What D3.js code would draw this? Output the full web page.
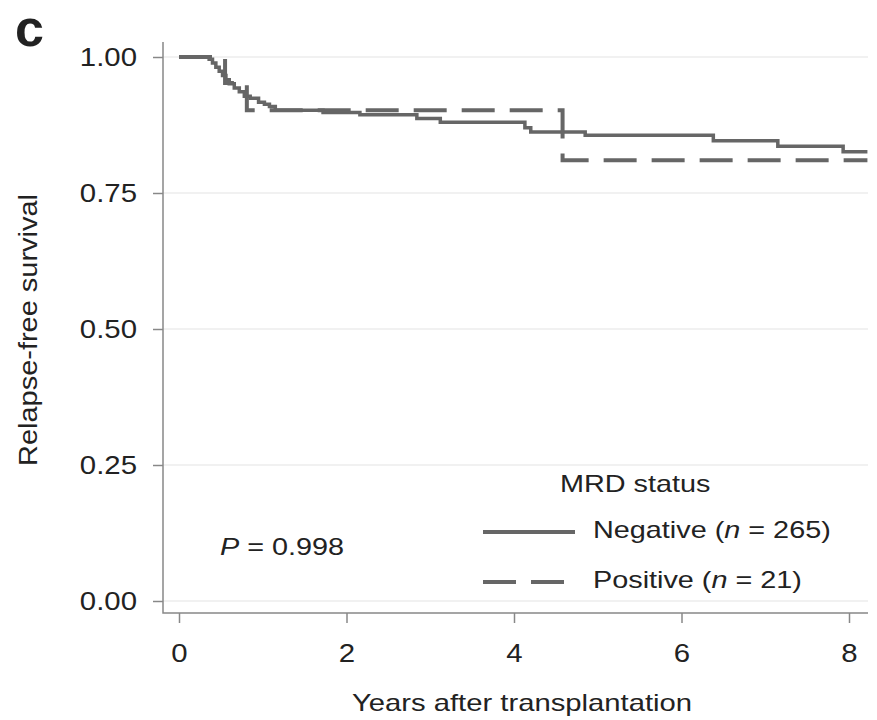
<!DOCTYPE html>
<html>
<head>
<meta charset="utf-8">
<script src="https://cdn.jsdelivr.net/npm/d3@7"></script>
<style>
  body { margin: 0; background: #fff; }
  text { font-family: "Liberation Sans", Arial, sans-serif; fill: #222; }
</style>
</head>
<body>
<div id="chart"></div>
<script>
// Kaplan-Meier steps (years, survival)
var negTime = [0, 0.36, 0.40, 0.44, 0.48, 0.52, 0.56, 0.60, 0.66, 0.72, 0.78, 0.85, 0.95, 1.02, 1.08, 1.15, 1.72, 2.16, 2.84, 3.12, 4.13, 4.20, 4.85, 6.38, 7.15, 7.93, 8.22];
var negSurv = [1, 0.996, 0.989, 0.981, 0.974, 0.966, 0.958, 0.951, 0.943, 0.936, 0.928, 0.924, 0.917, 0.913, 0.909, 0.902, 0.898, 0.894, 0.887, 0.880, 0.870, 0.862, 0.856, 0.846, 0.836, 0.826, 0.826];
var posTime = [0, 0.55, 0.81, 4.58, 8.22];
var posSurv = [1, 0.952, 0.902, 0.810, 0.810];

var xTicks = [0, 2, 4, 6, 8];
var yTicks = [0, 0.25, 0.5, 0.75, 1];

var width = 877, height = 720;
var lineColor = '#666';

var svg = d3.select('#chart').append('svg')
	.attr('width', width)
	.attr('height', height);

var x = d3.scaleLinear().domain([0, 8]).range([179, 849]);
var y = d3.scaleLinear().domain([0, 1]).range([601, 57]);

var axisX = 163, axisY = 613, rightEdge = 868, topEdge = 42;

// widen glyphs a bit, the figure's text is stretched horizontally
function stretch(sel, k) {
	sel.each(function () {
		d3.select(this).attr('textLength', this.getComputedTextLength() * k)
			.attr('lengthAdjust', 'spacingAndGlyphs');
	});
}

// gridlines
svg.append('g').selectAll('line')
	.data(yTicks)
	.enter().append('line')
	.attr('x1', axisX).attr('x2', rightEdge)
	.attr('y1', function (d) { return y(d); })
	.attr('y2', function (d) { return y(d); })
	.attr('stroke', '#ededed')
	.attr('stroke-width', 1.5);

// y axis
var gy = svg.append('g')
	.attr('transform', 'translate(' + axisX + ',0)')
	.call(d3.axisLeft(y).tickValues(yTicks).tickFormat(d3.format('.2f')).tickSize(10).tickPadding(16));
gy.select('.domain').remove();
gy.selectAll('.tick line').attr('stroke', '#888').attr('stroke-width', 1.5);
gy.selectAll('.tick text').attr('font-size', 26).attr('fill', '#222')
	.style('font-family', '"Liberation Sans", Arial, sans-serif');
stretch(gy.selectAll('.tick text'), 1.13);

// x axis
var gx = svg.append('g')
	.attr('transform', 'translate(0,' + axisY + ')')
	.call(d3.axisBottom(x).tickValues(xTicks).tickSize(10).tickPadding(21));
gx.select('.domain').remove();
gx.selectAll('.tick line').attr('stroke', '#888').attr('stroke-width', 1.5);
gx.selectAll('.tick text').attr('font-size', 26).attr('fill', '#222')
	.style('font-family', '"Liberation Sans", Arial, sans-serif');
stretch(gx.selectAll('.tick text'), 1.13);

// axis lines
svg.append('path')
	.attr('d', 'M' + axisX + ',' + topEdge + 'V' + axisY + 'H' + rightEdge)
	.attr('fill', 'none')
	.attr('stroke', '#888')
	.attr('stroke-width', 1.5);

// survival curves
var step = d3.line()
	.x(function (d) { return x(d[0]); })
	.y(function (d) { return y(d[1]); })
	.curve(d3.curveStepAfter);

svg.append('path')
	.datum(d3.zip(negTime, negSurv))
	.attr('d', step)
	.attr('fill', 'none')
	.attr('stroke', lineColor)
	.attr('stroke-width', 3.5);

svg.append('path')
	.datum(d3.zip(posTime, posSurv))
	.attr('d', step)
	.attr('fill', 'none')
	.attr('stroke', lineColor)
	.attr('stroke-width', 4)
	.attr('stroke-dasharray', '33,15');

// titles
svg.append('text')
	.attr('x', 15).attr('y', 46)
	.attr('font-size', 52).attr('font-weight', 'bold')
	.attr('fill', '#111')
	.text('c');

svg.append('text')
	.attr('transform', 'translate(37,330) rotate(-90)')
	.attr('text-anchor', 'middle')
	.attr('font-size', 25)
	.attr('textLength', 272).attr('lengthAdjust', 'spacingAndGlyphs')
	.text('Relapse-free survival');

svg.append('text')
	.attr('x', 522).attr('y', 711)
	.attr('text-anchor', 'middle')
	.attr('font-size', 24)
	.attr('textLength', 340).attr('lengthAdjust', 'spacingAndGlyphs')
	.text('Years after transplantation');

// P value
var pText = svg.append('text').attr('x', 220).attr('y', 555).attr('font-size', 24);
pText.append('tspan').attr('font-style', 'italic').text('P');
pText.append('tspan').text(' = 0.998');
stretch(pText, 1.2);

// legend
var legend = svg.append('g');
stretch(legend.append('text').attr('x', 560).attr('y', 492).attr('font-size', 24).text('MRD status'), 1.2);

var legendItems = [
	{ label: 'Negative', n: 265, dash: null, y: 532 },
	{ label: 'Positive', n: 21, dash: '33,15', y: 582 }
];

legendItems.forEach(function (item) {
	legend.append('line')
		.attr('x1', 483).attr('x2', item.dash ? 565 : 575)
		.attr('y1', item.y).attr('y2', item.y)
		.attr('stroke', lineColor)
		.attr('stroke-width', 4)
		.attr('stroke-dasharray', item.dash);
	var t = legend.append('text').attr('x', 593).attr('y', item.y + 6).attr('font-size', 24);
	t.append('tspan').text(item.label + ' (');
	t.append('tspan').attr('font-style', 'italic').text('n');
	t.append('tspan').text(' = ' + item.n + ')');
	stretch(t, 1.2);
});
</script>
</body>
</html>
